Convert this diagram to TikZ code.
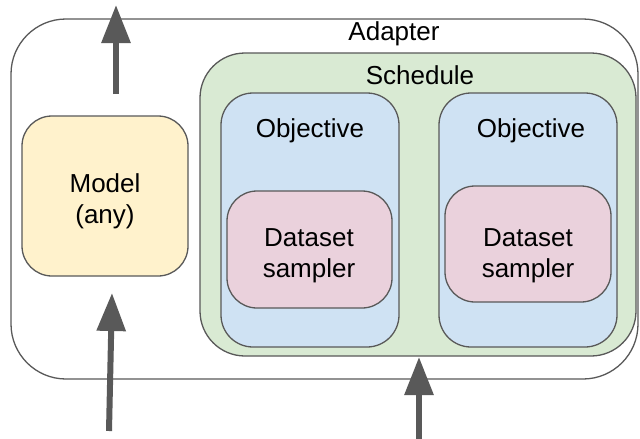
\documentclass[tikz,border=0pt]{standalone}
\usepackage{fontspec}
\setmainfont{Liberation Sans}
\usetikzlibrary{arrows.meta}
\definecolor{edge}{HTML}{595959}
\definecolor{schedfill}{HTML}{D9EAD3}
\definecolor{objfill}{HTML}{CFE2F3}
\definecolor{datafill}{HTML}{EAD1DC}
\definecolor{modelfill}{HTML}{FFF2CC}
\tikzset{
  box/.style={draw=edge, line width=1.3pt, inner sep=0pt},
  lbl/.style={inner sep=0pt, align=center, font=\fontsize{26}{31}\selectfont},
  flow/.style={draw=edge, line width=6pt, -{Triangle[length=38pt,width=28pt]}},
}
\begin{document}
\begin{tikzpicture}[x=1pt,y=-1pt]
  \useasboundingbox (0,0) rectangle (640,439);
  % outer adapter frame
  \node[box, fill=white, rounded corners=55pt, minimum width=627pt, minimum height=360pt] (adapter) at (324.5,199) {};
  \node[lbl] (adapterlbl) at (394,34) {Adapter};
  % schedule
  \node[box, fill=schedfill, rounded corners=45pt, minimum width=436pt, minimum height=303pt] (schedule) at (418,204.5) {};
  \node[lbl] (schedulelbl) at (420,75) {Schedule};
  % objectives
  \node[box, fill=objfill, rounded corners=32pt, minimum width=178pt, minimum height=254pt] (objA) at (310,220) {};
  \node[box, fill=objfill, rounded corners=32pt, minimum width=178pt, minimum height=254pt] (objB) at (528,220) {};
  \node[lbl] (objAlbl) at (310,131) {Objective};
  \node[lbl] (objBlbl) at (531,131) {Objective};
  % dataset samplers
  \node[box, fill=datafill, rounded corners=30pt, minimum width=165pt, minimum height=117pt] (dataA) at (309.5,249.5) {};
  \node[box, fill=datafill, rounded corners=30pt, minimum width=166pt, minimum height=116pt] (dataB) at (528,244) {};
  \node[lbl] (dataAlbl) at (309,256) {Dataset\\sampler};
  \node[lbl] (dataBlbl) at (528,256) {Dataset\\sampler};
  % model
  \node[box, fill=modelfill, rounded corners=30pt, minimum width=166pt, minimum height=160pt] (model) at (105,196) {};
  \node[lbl] (modellbl) at (105,201) {Model\\(any)};
  % data flow arrows
  \coordinate (outS) at (116,94);
  \coordinate (outE) at (116,5);
  \coordinate (inA) at (109,431);
  \coordinate (inAend) at (112,293);
  \coordinate (inB) at (419,439);
  \coordinate (inBend) at (419,357);
  \draw[flow] (outS) -- (outE);
  \draw[flow] (inA) -- (inAend);
  \draw[flow] (inB) -- (inBend);
\end{tikzpicture}
\end{document}
